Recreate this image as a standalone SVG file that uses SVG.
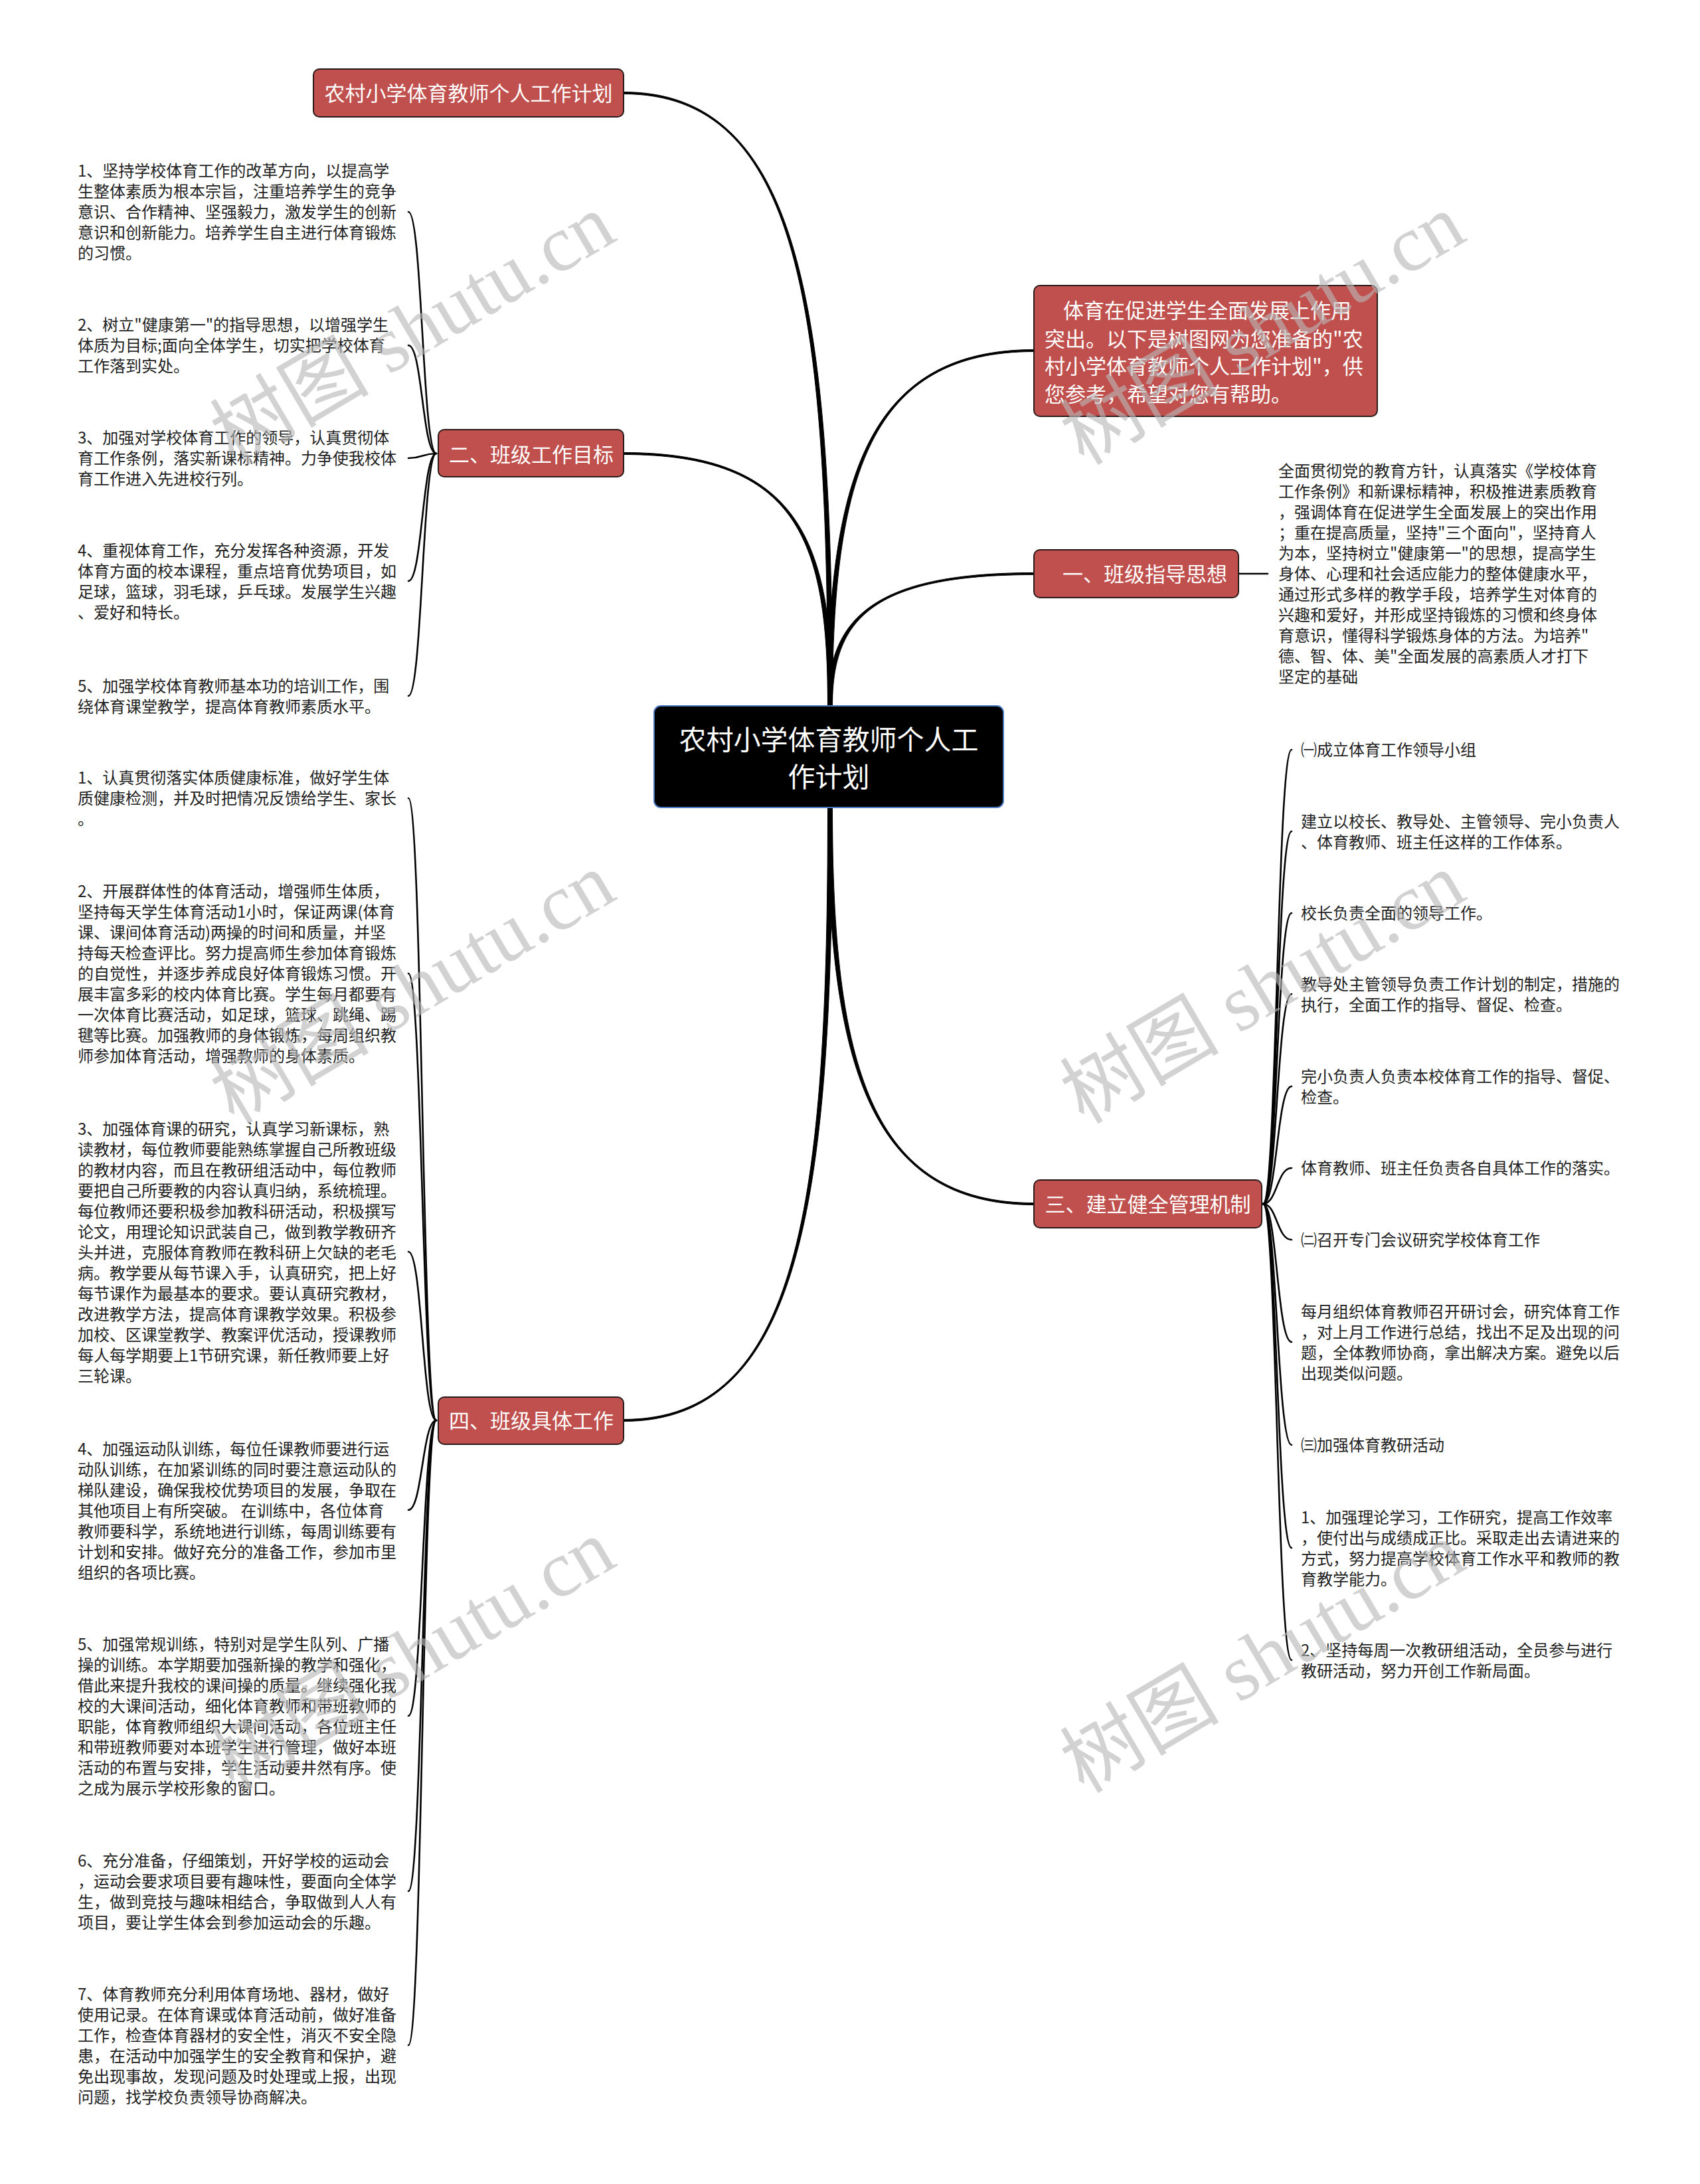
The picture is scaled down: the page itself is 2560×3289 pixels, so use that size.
<svg xmlns="http://www.w3.org/2000/svg" width="2560" height="3289" viewBox="0 0 2560 3289">
<style>
.bx{fill:#C0504D;stroke:#2a1a1a;stroke-width:2}
.bt{font-family:"Noto Sans CJK SC","Noto Sans",sans-serif;font-size:31px;fill:#ffffff}
.rt{font-family:"Noto Sans CJK SC","Noto Sans",sans-serif;font-size:41px;fill:#ffffff}
.lt{font-family:"Noto Sans CJK SC","Noto Sans",sans-serif;font-size:24px;fill:#222222}
.c1{fill:#000;stroke:#000;stroke-width:1;stroke-linejoin:round}
.c2{fill:none;stroke:#000;stroke-width:2.6;stroke-linecap:round}
.wm{font-family:"Liberation Serif","Noto Sans CJK SC",serif;font-size:120px;fill:#b8b8b8;opacity:0.62}
</style>
<rect width="2560" height="3289" fill="#ffffff"/>
<g id="connectors">
<path class="c1" d="M1253.5,1063 C1253.5,463 1203,138.5 939,138.5 L939,141.5 C1203,141.5 1246.5,463 1246.5,1063 Z"/>
<path class="c1" d="M1253.5,1063 C1253.5,816 1203,681.5 939,681.5 L939,684.5 C1203,684.5 1246.5,816 1246.5,1063 Z"/>
<path class="c1" d="M1253.5,1063 C1253.5,715 1311,529.5 1557,529.5 L1557,526.5 C1311,526.5 1246.5,715 1246.5,1063 Z"/>
<path class="c1" d="M1253.5,1063 C1253.5,934 1311,865.5 1557,865.5 L1557,862.5 C1311,862.5 1246.5,934 1246.5,1063 Z"/>
<path class="c1" d="M1246.5,1216 C1246.5,1604 1311,1814.5 1557,1814.5 L1557,1811.5 C1311,1811.5 1253.5,1604 1253.5,1216 Z"/>
<path class="c1" d="M1246.5,1216 C1246.5,1816 1203,2137.5 939,2137.5 L939,2140.5 C1203,2140.5 1253.5,1816 1253.5,1216 Z"/>
<path class="c2" d="M657,683 C636,683 636,319 615,319"/>
<path class="c2" d="M657,683 C636,683 636,520 615,520"/>
<path class="c2" d="M657,683 C636,683 636,690 615,690"/>
<path class="c2" d="M657,683 C636,683 636,875 615,875"/>
<path class="c2" d="M657,683 C636,683 636,1048 615,1048"/>
<path class="c2" d="M1865,864 L1909,864"/>
<path class="c2" d="M1902,1813 C1923,1813 1923,1129 1945,1129"/>
<path class="c2" d="M1902,1813 C1923,1813 1923,1252 1945,1252"/>
<path class="c2" d="M1902,1813 C1923,1813 1923,1375 1945,1375"/>
<path class="c2" d="M1902,1813 C1923,1813 1923,1497 1945,1497"/>
<path class="c2" d="M1902,1813 C1923,1813 1923,1636 1945,1636"/>
<path class="c2" d="M1902,1813 C1923,1813 1923,1759 1945,1759"/>
<path class="c2" d="M1902,1813 C1923,1813 1923,1867 1945,1867"/>
<path class="c2" d="M1902,1813 C1923,1813 1923,2021 1945,2021"/>
<path class="c2" d="M1902,1813 C1923,1813 1923,2176 1945,2176"/>
<path class="c2" d="M1902,1813 C1923,1813 1923,2331 1945,2331"/>
<path class="c2" d="M1902,1813 C1923,1813 1923,2500 1945,2500"/>
<path class="c2" d="M657,2139 C636,2139 636,1202 615,1202"/>
<path class="c2" d="M657,2139 C636,2139 636,1466 615,1466"/>
<path class="c2" d="M657,2139 C636,2139 636,1885 615,1885"/>
<path class="c2" d="M657,2139 C636,2139 636,2274 615,2274"/>
<path class="c2" d="M657,2139 C636,2139 636,2584 615,2584"/>
<path class="c2" d="M657,2139 C636,2139 636,2848 615,2848"/>
<path class="c2" d="M657,2139 C636,2139 636,3080 615,3080"/>
</g>
<g id="root">
<rect x="985" y="1063" width="526" height="153" rx="10" fill="#000000" stroke="#4a78c2" stroke-width="2"/>
<text class="rt" text-anchor="middle"><tspan x="1248" y="1129">农村小学体育教师个人工</tspan><tspan x="1248" y="1185">作计划</tspan></text>
</g>
<g id="n-title">
<rect class="bx" x="472" y="104" width="467" height="72" rx="9"/>
<text class="bt" x="705.5" y="152" text-anchor="middle">农村小学体育教师个人工作计划</text>
</g>
<g id="n-intro">
<rect class="bx" x="1557" y="430" width="517" height="197" rx="9"/>
<text class="bt"><tspan x="1601" y="479">体育在促进学生全面发展上作用</tspan><tspan x="1573" y="522">突出。以下是树图网为您准备的"农</tspan><tspan x="1573" y="563">村小学体育教师个人工作计划"，供</tspan><tspan x="1573" y="605">您参考，希望对您有帮助。</tspan></text>
</g>
<g id="n-1">
<rect class="bx" x="1557" y="828" width="308" height="72" rx="9"/>
<text class="bt" x="1600" y="876">一、班级指导思想</text>
</g>
<g id="n-2">
<rect class="bx" x="660" y="647" width="279" height="71" rx="9"/>
<text class="bt" x="800" y="696" text-anchor="middle">二、班级工作目标</text>
</g>
<g id="n-3">
<rect class="bx" x="1557" y="1777" width="343" height="72" rx="9"/>
<text class="bt" x="1728.5" y="1825" text-anchor="middle">三、建立健全管理机制</text>
</g>
<g id="n-4">
<rect class="bx" x="660" y="2104" width="279" height="71" rx="9"/>
<text class="bt" x="800" y="2151" text-anchor="middle">四、班级具体工作</text>
</g>
<g id="leaf-1-1">
<text class="lt"><tspan x="1925" y="718">全面贯彻党的教育方针，认真落实《学校体育</tspan><tspan x="1925" y="749">工作条例》和新课标精神，积极推进素质教育</tspan><tspan x="1925" y="780">，强调体育在促进学生全面发展上的突出作用</tspan><tspan x="1925" y="811">；重在提高质量，坚持"三个面向"，坚持育人</tspan><tspan x="1925" y="842">为本，坚持树立"健康第一"的思想，提高学生</tspan><tspan x="1925" y="873">身体、心理和社会适应能力的整体健康水平，</tspan><tspan x="1925" y="904">通过形式多样的教学手段，培养学生对体育的</tspan><tspan x="1925" y="935">兴趣和爱好，并形成坚持锻炼的习惯和终身体</tspan><tspan x="1925" y="966">育意识，懂得科学锻炼身体的方法。为培养"</tspan><tspan x="1925" y="997">德、智、体、美"全面发展的高素质人才打下</tspan><tspan x="1925" y="1028">坚定的基础</tspan></text>
</g>
<g id="leaf-2-1">
<text class="lt"><tspan x="117" y="266">1、坚持学校体育工作的改革方向，以提高学</tspan><tspan x="117" y="297">生整体素质为根本宗旨，注重培养学生的竞争</tspan><tspan x="117" y="328">意识、合作精神、坚强毅力，激发学生的创新</tspan><tspan x="117" y="359">意识和创新能力。培养学生自主进行体育锻炼</tspan><tspan x="117" y="390">的习惯。</tspan></text>
</g>
<g id="leaf-2-2">
<text class="lt"><tspan x="117" y="498">2、树立"健康第一"的指导思想，以增强学生</tspan><tspan x="117" y="529">体质为目标;面向全体学生，切实把学校体育</tspan><tspan x="117" y="560">工作落到实处。</tspan></text>
</g>
<g id="leaf-2-3">
<text class="lt"><tspan x="117" y="668">3、加强对学校体育工作的领导，认真贯彻体</tspan><tspan x="117" y="699">育工作条例，落实新课标精神。力争使我校体</tspan><tspan x="117" y="730">育工作进入先进校行列。</tspan></text>
</g>
<g id="leaf-2-4">
<text class="lt"><tspan x="117" y="837.5">4、重视体育工作，充分发挥各种资源，开发</tspan><tspan x="117" y="868.5">体育方面的校本课程，重点培育优势项目，如</tspan><tspan x="117" y="899.5">足球，篮球，羽毛球，乒乓球。发展学生兴趣</tspan><tspan x="117" y="930.5">、爱好和特长。</tspan></text>
</g>
<g id="leaf-2-5">
<text class="lt"><tspan x="117" y="1041.5">5、加强学校体育教师基本功的培训工作，围</tspan><tspan x="117" y="1072.5">绕体育课堂教学，提高体育教师素质水平。</tspan></text>
</g>
<g id="leaf-3-1"><text class="lt" x="1959" y="1138">㈠成立体育工作领导小组</text></g>
<g id="leaf-3-2"><text class="lt"><tspan x="1959" y="1245.5">建立以校长、教导处、主管领导、完小负责人</tspan><tspan x="1959" y="1276.5">、体育教师、班主任这样的工作体系。</tspan></text></g>
<g id="leaf-3-3"><text class="lt" x="1959" y="1384">校长负责全面的领导工作。</text></g>
<g id="leaf-3-4"><text class="lt"><tspan x="1959" y="1490.5">教导处主管领导负责工作计划的制定，措施的</tspan><tspan x="1959" y="1521.5">执行，全面工作的指导、督促、检查。</tspan></text></g>
<g id="leaf-3-5"><text class="lt"><tspan x="1959" y="1629.5">完小负责人负责本校体育工作的指导、督促、</tspan><tspan x="1959" y="1660.5">检查。</tspan></text></g>
<g id="leaf-3-6"><text class="lt" x="1959" y="1768">体育教师、班主任负责各自具体工作的落实。</text></g>
<g id="leaf-3-7"><text class="lt" x="1959" y="1876">㈡召开专门会议研究学校体育工作</text></g>
<g id="leaf-3-8"><text class="lt"><tspan x="1959" y="1983.5">每月组织体育教师召开研讨会，研究体育工作</tspan><tspan x="1959" y="2014.5">，对上月工作进行总结，找出不足及出现的问</tspan><tspan x="1959" y="2045.5">题，全体教师协商，拿出解决方案。避免以后</tspan><tspan x="1959" y="2076.5">出现类似问题。</tspan></text></g>
<g id="leaf-3-9"><text class="lt" x="1959" y="2185">㈢加强体育教研活动</text></g>
<g id="leaf-3-10"><text class="lt"><tspan x="1959" y="2293.5">1、加强理论学习，工作研究，提高工作效率</tspan><tspan x="1959" y="2324.5">，使付出与成绩成正比。采取走出去请进来的</tspan><tspan x="1959" y="2355.5">方式，努力提高学校体育工作水平和教师的教</tspan><tspan x="1959" y="2386.5">育教学能力。</tspan></text></g>
<g id="leaf-3-11"><text class="lt"><tspan x="1959" y="2493.5">2、坚持每周一次教研组活动，全员参与进行</tspan><tspan x="1959" y="2524.5">教研活动，努力开创工作新局面。</tspan></text></g>
<g id="leaf-4-1"><text class="lt"><tspan x="117" y="1180">1、认真贯彻落实体质健康标准，做好学生体</tspan><tspan x="117" y="1211">质健康检测，并及时把情况反馈给学生、家长</tspan><tspan x="117" y="1242">。</tspan></text></g>
<g id="leaf-4-2"><text class="lt"><tspan x="117" y="1351">2、开展群体性的体育活动，增强师生体质，</tspan><tspan x="117" y="1382">坚持每天学生体育活动1小时，保证两课(体育</tspan><tspan x="117" y="1413">课、课间体育活动)两操的时间和质量，并坚</tspan><tspan x="117" y="1444">持每天检查评比。努力提高师生参加体育锻炼</tspan><tspan x="117" y="1475">的自觉性，并逐步养成良好体育锻炼习惯。开</tspan><tspan x="117" y="1506">展丰富多彩的校内体育比赛。学生每月都要有</tspan><tspan x="117" y="1537">一次体育比赛活动，如足球，篮球、跳绳、踢</tspan><tspan x="117" y="1568">毽等比赛。加强教师的身体锻炼，每周组织教</tspan><tspan x="117" y="1599">师参加体育活动，增强教师的身体素质。</tspan></text></g>
<g id="leaf-4-3"><text class="lt"><tspan x="117" y="1708.5">3、加强体育课的研究，认真学习新课标，熟</tspan><tspan x="117" y="1739.5">读教材，每位教师要能熟练掌握自己所教班级</tspan><tspan x="117" y="1770.5">的教材内容，而且在教研组活动中，每位教师</tspan><tspan x="117" y="1801.5">要把自己所要教的内容认真归纳，系统梳理。</tspan><tspan x="117" y="1832.5">每位教师还要积极参加教科研活动，积极撰写</tspan><tspan x="117" y="1863.5">论文，用理论知识武装自己，做到教学教研齐</tspan><tspan x="117" y="1894.5">头并进，克服体育教师在教科研上欠缺的老毛</tspan><tspan x="117" y="1925.5">病。教学要从每节课入手，认真研究，把上好</tspan><tspan x="117" y="1956.5">每节课作为最基本的要求。要认真研究教材，</tspan><tspan x="117" y="1987.5">改进教学方法，提高体育课教学效果。积极参</tspan><tspan x="117" y="2018.5">加校、区课堂教学、教案评优活动，授课教师</tspan><tspan x="117" y="2049.5">每人每学期要上1节研究课，新任教师要上好</tspan><tspan x="117" y="2080.5">三轮课。</tspan></text></g>
<g id="leaf-4-4"><text class="lt"><tspan x="117" y="2190.5">4、加强运动队训练，每位任课教师要进行运</tspan><tspan x="117" y="2221.5">动队训练，在加紧训练的同时要注意运动队的</tspan><tspan x="117" y="2252.5">梯队建设，确保我校优势项目的发展，争取在</tspan><tspan x="117" y="2283.5">其他项目上有所突破。 在训练中，各位体育</tspan><tspan x="117" y="2314.5">教师要科学，系统地进行训练，每周训练要有</tspan><tspan x="117" y="2345.5">计划和安排。做好充分的准备工作，参加市里</tspan><tspan x="117" y="2376.5">组织的各项比赛。</tspan></text></g>
<g id="leaf-4-5"><text class="lt"><tspan x="117" y="2484.5">5、加强常规训练，特别对是学生队列、广播</tspan><tspan x="117" y="2515.5">操的训练。本学期要加强新操的教学和强化，</tspan><tspan x="117" y="2546.5">借此来提升我校的课间操的质量。继续强化我</tspan><tspan x="117" y="2577.5">校的大课间活动，细化体育教师和带班教师的</tspan><tspan x="117" y="2608.5">职能，体育教师组织大课间活动，各位班主任</tspan><tspan x="117" y="2639.5">和带班教师要对本班学生进行管理，做好本班</tspan><tspan x="117" y="2670.5">活动的布置与安排，学生活动要井然有序。使</tspan><tspan x="117" y="2701.5">之成为展示学校形象的窗口。</tspan></text></g>
<g id="leaf-4-6"><text class="lt"><tspan x="117" y="2810.5">6、充分准备，仔细策划，开好学校的运动会</tspan><tspan x="117" y="2841.5">，运动会要求项目要有趣味性，要面向全体学</tspan><tspan x="117" y="2872.5">生，做到竞技与趣味相结合，争取做到人人有</tspan><tspan x="117" y="2903.5">项目，要让学生体会到参加运动会的乐趣。</tspan></text></g>
<g id="leaf-4-7"><text class="lt"><tspan x="117" y="3011.5">7、体育教师充分利用体育场地、器材，做好</tspan><tspan x="117" y="3042.5">使用记录。在体育课或体育活动前，做好准备</tspan><tspan x="117" y="3073.5">工作，检查体育器材的安全性，消灭不安全隐</tspan><tspan x="117" y="3104.5">患，在活动中加强学生的安全教育和保护，避</tspan><tspan x="117" y="3135.5">免出现事故，发现问题及时处理或上报，出现</tspan><tspan x="117" y="3166.5">问题，找学校负责领导协商解决。</tspan></text></g>
<g id="watermarks">
<text class="wm" transform="translate(352,702) rotate(-30.5)">树图 shutu.cn</text>
<text class="wm" transform="translate(1632,702) rotate(-30.5)">树图 shutu.cn</text>
<text class="wm" transform="translate(352,1694) rotate(-30.5)">树图 shutu.cn</text>
<text class="wm" transform="translate(1632,1694) rotate(-30.5)">树图 shutu.cn</text>
<text class="wm" transform="translate(352,2698) rotate(-30.5)">树图 shutu.cn</text>
<text class="wm" transform="translate(1632,2702) rotate(-30.5)">树图 shutu.cn</text>
</g>
</svg>
